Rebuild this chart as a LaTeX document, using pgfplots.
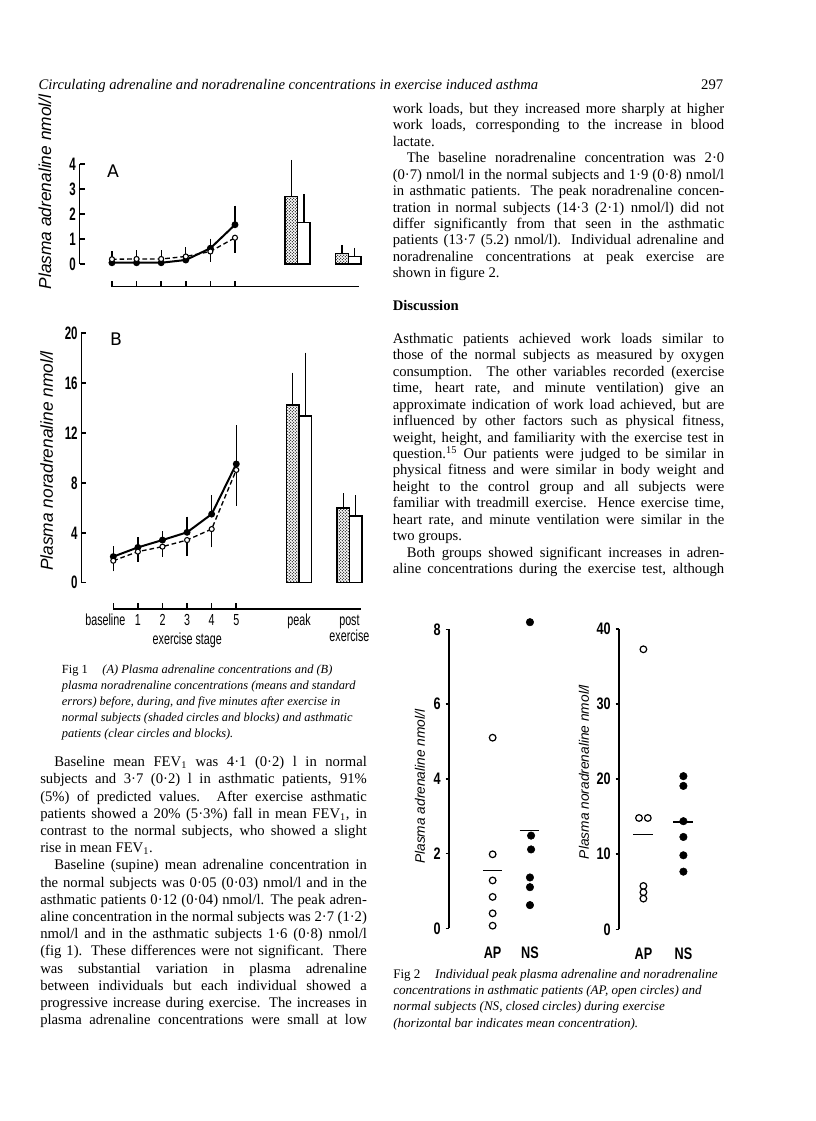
\documentclass[border=0pt]{standalone}
\usepackage{pgfplots}
\pgfplotsset{compat=1.18}
\usetikzlibrary{patterns,patterns.meta}
\usepackage{fontspec}
\setmainfont{Liberation Serif}
\newfontfamily\condfont[FakeStretch=0.67]{Liberation Sans}
\newfontfamily\condbfont[FakeStretch=0.64]{Liberation Sans}
\newfontfamily\cbtwo[FakeStretch=0.76]{Liberation Sans}
\newfontfamily\labfont{Liberation Sans}
\newfontfamily\letterfont{DejaVu Sans}

\tikzdeclarepattern{
  name=stipple,
  type=uncolored,
  bounding box={(0pt,0pt) and (2.2pt,2.2pt)},
  tile size={(2.2pt,2.2pt)},
  code={\fill (0.55pt,0.55pt) circle [radius=0.52pt]; \fill (1.65pt,1.65pt) circle [radius=0.52pt];}
}

\tikzset{body/.style={font=\fontsize{11}{13}\selectfont, inner sep=0pt, anchor=base west},
         captA/.style={font=\fontsize{9.3}{12}\selectfont, inner sep=0pt, anchor=base west},
         captB/.style={font=\fontsize{9.8}{12}\selectfont, inner sep=0pt, anchor=base west}}
\newcommand\RJ[2]{\node[body] at (392.5,{1007.5-16.43*#1}) {\makebox[248.6pt][s]{#2}};}
\newcommand\RR[2]{\node[body] at (392.5,{1007.5-16.43*#1}) {#2};}
\newcommand\LJ[2]{\node[body] at (40,{354.2-17.2*#1}) {\makebox[245pt][s]{#2}};}
\newcommand\LR[2]{\node[body] at (40,{354.2-17.2*#1}) {#2};}
\newcommand\FA[2]{\node[captA] at (61.7,{447.5-15.95*#1}) {#2};}
\newcommand\FB[2]{\node[captB] at (393,{142.5-16.2*#1}) {#2};}

\pgfplotsset{
  ebarP/.style={mark=none, draw=none, forget plot,
    error bars/.cd, y dir=plus, y explicit,
    error bar style={draw=black, solid, line width=0.95pt},
    error mark options={draw=black, solid, line width=0.95pt, mark size=3pt}},
  ebarM/.style={mark=none, draw=none, forget plot,
    error bars/.cd, y dir=minus, y explicit,
    error bar style={draw=black, solid, line width=0.95pt},
    error mark options={draw=black, solid, line width=0.95pt, mark size=3pt}},
  barS/.style={ybar, bar width=0.51, bar shift=0pt, draw=black, line width=1pt,
    pattern=stipple, pattern color=black, forget plot},
  barC/.style={ybar, bar width=0.51, bar shift=0pt, draw=black, line width=1pt,
    fill=white, forget plot},
  normline/.style={black, line width=1.5pt, mark=*, mark size=1.8pt},
  asthline/.style={black, line width=1pt, dash pattern=on 3.5pt off 2.2pt, mark=*, mark size=1.9pt,
    mark options={solid, fill=white, line width=0.8pt}},
  fig1y/.style={scale only axis, anchor=south west,
    xmin=-1.32, xmax=10.05, ymin=0,
    axis x line=none, axis y line=left, axis line style={-, line width=1.2pt},
    tick align=inside, major tick length=3.8pt, tick style={line width=1.2pt, black},
    yticklabel style={font=\condbfont\bfseries\fontsize{13.5}{13.5}\selectfont, anchor=east, inner sep=0pt, xshift=-2.6pt},
    /pgf/number format/assume math mode=true, clip=false},
  fig1x/.style={scale only axis, anchor=south west, width=185.4pt, height=1pt,
    xmin=0, xmax=10.05, ymin=0, ymax=1, axis y line=none, axis x line=bottom,
    axis line style={-, line width=1.2pt}, xtick={0,...,5},
    tick align=inside, tick style={line width=1.2pt, black}},
  fig2/.style={scale only axis, anchor=south west, ymin=0, xmax=2.5,
    axis x line*=bottom, axis y line*=left, x axis line style={draw=none},
    y axis line style={-, line width=1.1pt}, xtick={1,2}, xticklabels={AP,NS},
    x tick style={draw=none},
    xticklabel style={font=\cbtwo\bfseries\fontsize{12.5}{12.5}\selectfont, anchor=center, inner sep=0pt, yshift=-15.5pt},
    tick align=outside, major tick length=2.6pt, y tick style={line width=1.1pt, black},
    yticklabel style={font=\cbtwo\bfseries\fontsize{12.5}{12.5}\selectfont, anchor=east, inner sep=0pt, xshift=-3.5pt},
    /pgf/number format/assume math mode=true, clip=false},
  open2/.style={only marks, mark=*, mark size=2.5pt, mark options={fill=white, draw=black, line width=0.9pt}},
  fill2/.style={only marks, mark=*, mark size=2.8pt, black},
}

\begin{document}
\begin{tikzpicture}[x=0.75pt,y=0.75pt]
\path[use as bounding box] (0,0) rectangle (816,1121);
\coordinate (pA) at (79.5,857);
\coordinate (pAx) at (112,834.3);
\coordinate (pB) at (81.3,538.3);
\coordinate (pBx) at (113.3,511.7);
\coordinate (p2L) at (449,192.7);
\coordinate (p2R) at (619,191.7);

% ---------------- header ----------------
\node[anchor=base west, inner sep=0pt, font=\itshape\fontsize{11}{13}\selectfont] at (38.3,1031.5)
  {Circulating adrenaline and noradrenaline concentrations in exercise induced asthma};
\node[anchor=base east, inner sep=0pt, font=\fontsize{11}{13}\selectfont] at (723.5,1031.5) {297};

% ---------------- Fig 1 A ----------------
\begin{axis}[fig1y, at={(pA)}, width=209.8pt, height=75pt, ymax=4, ytick={0,1,2,3,4}]
\addplot[barS] coordinates {(7.29,2.7)};
\addplot[barC] coordinates {(7.80,1.65)};
\addplot[barS] coordinates {(9.35,0.43)};
\addplot[barC] coordinates {(9.86,0.29)};
\addplot[ebarP] coordinates {
  (7.29,2.7) +- (0,1.3) (7.80,1.65) +- (0,0.98) (9.35,0.43) +- (0,0.17) (9.86,0.29) +- (0,0.19)};
\addplot[ebarP] coordinates {
  (0,0.19) +- (0,0.16) (1,0.2) +- (0,0.19) (2,0.2) +- (0,0.19) (3,0.3) +- (0,0.2)
  (4,0.63) +- (0,0.22) (5,1.57) +- (0,0.6)};
\addplot[ebarM] coordinates {
  (4,0.5) +- (0,0.25) (5,1.05) +- (0,0.45)};
\addplot[normline] coordinates {(0,0.05)(1,0.05)(2,0.05)(3,0.16)(4,0.63)(5,1.57)};
\addplot[asthline] coordinates {(0,0.19)(1,0.2)(2,0.2)(3,0.3)(4,0.5)(5,1.05)};
\end{axis}
\begin{axis}[fig1x, at={(pAx)}, xticklabels={}, major tick length=4pt]
\addplot[draw=none] coordinates {(0,0)};
\end{axis}
\node[font=\letterfont\fontsize{13}{13}\selectfont] at (113,950) {A};
\node[rotate=90, font=\labfont\itshape\fontsize{13}{13}\selectfont] at (45,929) {Plasma adrenaline nmol/l};

% ---------------- Fig 1 B ----------------
\begin{axis}[fig1y, at={(pB)}, width=209.4pt, height=187.05pt, xmin=-1.3, ymax=20, ytick={0,4,8,12,16,20}]
\addplot[barS] coordinates {(7.29,14.25)};
\addplot[barC] coordinates {(7.80,13.37)};
\addplot[barS] coordinates {(9.35,5.99)};
\addplot[barC] coordinates {(9.86,5.35)};
\addplot[ebarP] coordinates {
  (7.29,14.25) +- (0,2.27) (7.80,13.37) +- (0,4.76) (9.35,5.99) +- (0,0.85) (9.86,5.35) +- (0,1.36)};
\addplot[ebarP] coordinates {
  (0,2.09) +- (0,0.53) (1,2.83) +- (0,0.51) (2,3.42) +- (0,0.40) (3,4.04) +- (0,0.93)
  (4,5.5) +- (0,1.18) (5,9.52) +- (0,2.78)};
\addplot[ebarM] coordinates {
  (0,1.76) +- (0,0.53) (1,2.49) +- (0,0.49) (2,2.89) +- (0,0.49) (3,3.42) +- (0,0.96)
  (4,4.3) +- (0,1.14) (5,9.04) +- (0,2.54)};
\addplot[normline] coordinates {(0,2.09)(1,2.83)(2,3.42)(3,4.04)(4,5.5)(5,9.52)};
\addplot[asthline] coordinates {(0,1.76)(1,2.49)(2,2.89)(3,3.42)(4,4.3)(5,9.04)};
\end{axis}
\begin{axis}[fig1x, at={(pBx)}, major tick length=5pt,
  xticklabels={baseline\hspace*{12pt},1,2,3,4,5},
  extra x ticks={7.55,9.6},
  extra x tick labels={peak,{\begin{tabular}[t]{@{}c@{}}post\\exercise\end{tabular}}},
  extra x tick style={major tick length=0pt, tick style={draw=none}},
  xticklabel style={font=\condfont\fontsize{12}{9.5}\selectfont, anchor=base, inner sep=0pt, yshift=-12.5pt}]
\addplot[draw=none] coordinates {(0,0)};
\end{axis}
\node[font=\condfont\fontsize{12}{12}\selectfont] at (187.3,481) {exercise stage};
\node[font=\letterfont\fontsize{13}{13}\selectfont] at (116,782) {B};
\node[rotate=90, font=\labfont\itshape\fontsize{13}{13}\selectfont] at (46.7,660) {Plasma noradrenaline nmol/l};

% ---------------- Fig 1 caption ----------------
\FA{0}{Fig 1\hspace{11pt}\textit{(A) Plasma adrenaline concentrations and (B)}}
\FA{1}{\textit{plasma noradrenaline concentrations (means and standard}}
\FA{2}{\textit{errors) before, during, and five minutes after exercise in}}
\FA{3}{\textit{normal subjects (shaded circles and blocks) and asthmatic}}
\FA{4}{\textit{patients (clear circles and blocks).}}

% ---------------- Fig 2 left ----------------
\begin{axis}[fig2, at={(p2L)}, width=74.7pt, height=224.25pt, xmin=-0.17, ymax=8, ytick={0,2,4,6,8}]
\addplot[black, line width=1pt] coordinates {(0.74,1.54)(1.26,1.54)};
\addplot[black, line width=1pt] coordinates {(1.72,2.61)(2.24,2.61)};
\addplot[open2] coordinates {(1,5.10)(1,1.98)(1,1.28)(1,0.84)(1,0.40)(1,0.07)};
\addplot[fill2] coordinates {(2,8.19)(2.03,2.48)(2.03,2.11)(2,1.36)(2,1.10)(2,0.62)};
\end{axis}
\node[rotate=90, font=\labfont\itshape\fontsize{10.3}{10.3}\selectfont] at (420,334.3) {Plasma adrenaline nmol/l};

% ---------------- Fig 2 right ----------------
\begin{axis}[fig2, at={(p2R)}, width=63.3pt, height=225.2pt, xmin=0.39, ymax=40, ytick={0,10,20,30,40}]
\addplot[black, line width=1pt] coordinates {(0.75,12.6)(1.24,12.6)};
\addplot[black, line width=1pt] coordinates {(1.75,14.3)(2.25,14.3)};
\addplot[open2] coordinates {(1,37.3)(0.89,14.83)(1.11,14.83)(1,5.77)(1,4.93)(1,4.09)};
\addplot[fill2] coordinates {(2,20.4)(2,19.1)(2,14.4)(2,12.3)(2,9.86)(2,7.68)};
\end{axis}
\node[rotate=90, font=\labfont\itshape\fontsize{10.3}{10.3}\selectfont] at (584,349) {Plasma noradrenaline nmol/l};

% ---------------- Fig 2 caption ----------------
\FB{0}{Fig 2\hspace{11pt}\textit{Individual peak plasma adrenaline and noradrenaline}}
\FB{1}{\textit{concentrations in asthmatic patients (AP, open circles) and}}
\FB{2}{\textit{normal subjects (NS, closed circles) during exercise}}
\FB{3}{\textit{(horizontal bar indicates mean concentration).}}

% ---------------- right column text ----------------
\RJ{0}{work loads, but they increased more sharply at higher}
\RJ{1}{work loads, corresponding to the increase in blood}
\RR{2}{lactate.}
\RJ{3}{\hspace*{10.5pt}The baseline noradrenaline concentration was 2·0}
\RJ{4}{(0·7) nmol/l in the normal subjects and 1·9 (0·8) nmol/l}
\RJ{5}{in asthmatic patients. The peak noradrenaline concen-}
\RJ{6}{tration in normal subjects (14·3 (2·1) nmol/l) did not}
\RJ{7}{differ significantly from that seen in the asthmatic}
\RJ{8}{patients (13·7 (5.2) nmol/l). Individual adrenaline and}
\RJ{9}{noradrenaline concentrations at peak exercise are}
\RR{10}{shown in figure 2.}
\RR{12}{\textbf{Discussion}}
\RJ{14}{Asthmatic patients achieved work loads similar to}
\RJ{15}{those of the normal subjects as measured by oxygen}
\RJ{16}{consumption. The other variables recorded (exercise}
\RJ{17}{time, heart rate, and minute ventilation) give an}
\RJ{18}{approximate indication of work load achieved, but are}
\RJ{19}{influenced by other factors such as physical fitness,}
\RJ{20}{weight, height, and familiarity with the exercise test in}
\RJ{21}{question.\textsuperscript{15} Our patients were judged to be similar in}
\RJ{22}{physical fitness and were similar in body weight and}
\RJ{23}{height to the control group and all subjects were}
\RJ{24}{familiar with treadmill exercise. Hence exercise time,}
\RJ{25}{heart rate, and minute ventilation were similar in the}
\RR{26}{two groups.}
\RJ{27}{\hspace*{10.5pt}Both groups showed significant increases in adren-}
\RJ{28}{aline concentrations during the exercise test, although}

% ---------------- left column text ----------------
\LJ{0}{\hspace*{10.5pt}Baseline mean FEV\textsubscript{1} was 4·1 (0·2) l in normal}
\LJ{1}{subjects and 3·7 (0·2) l in asthmatic patients, 91\%}
\LJ{2}{(5\%) of predicted values. After exercise asthmatic}
\LJ{3}{patients showed a 20\% (5·3\%) fall in mean FEV\textsubscript{1}, in}
\LJ{4}{contrast to the normal subjects, who showed a slight}
\LR{5}{rise in mean FEV\textsubscript{1}.}
\LJ{6}{\hspace*{10.5pt}Baseline (supine) mean adrenaline concentration in}
\LJ{7}{the normal subjects was 0·05 (0·03) nmol/l and in the}
\LJ{8}{asthmatic patients 0·12 (0·04) nmol/l. The peak adren-}
\LJ{9}{aline concentration in the normal subjects was 2·7 (1·2)}
\LJ{10}{nmol/l and in the asthmatic subjects 1·6 (0·8) nmol/l}
\LJ{11}{(fig 1). These differences were not significant. There}
\LJ{12}{was substantial variation in plasma adrenaline}
\LJ{13}{between individuals but each individual showed a}
\LJ{14}{progressive increase during exercise. The increases in}
\LJ{15}{plasma adrenaline concentrations were small at low}
\end{tikzpicture}
\end{document}
